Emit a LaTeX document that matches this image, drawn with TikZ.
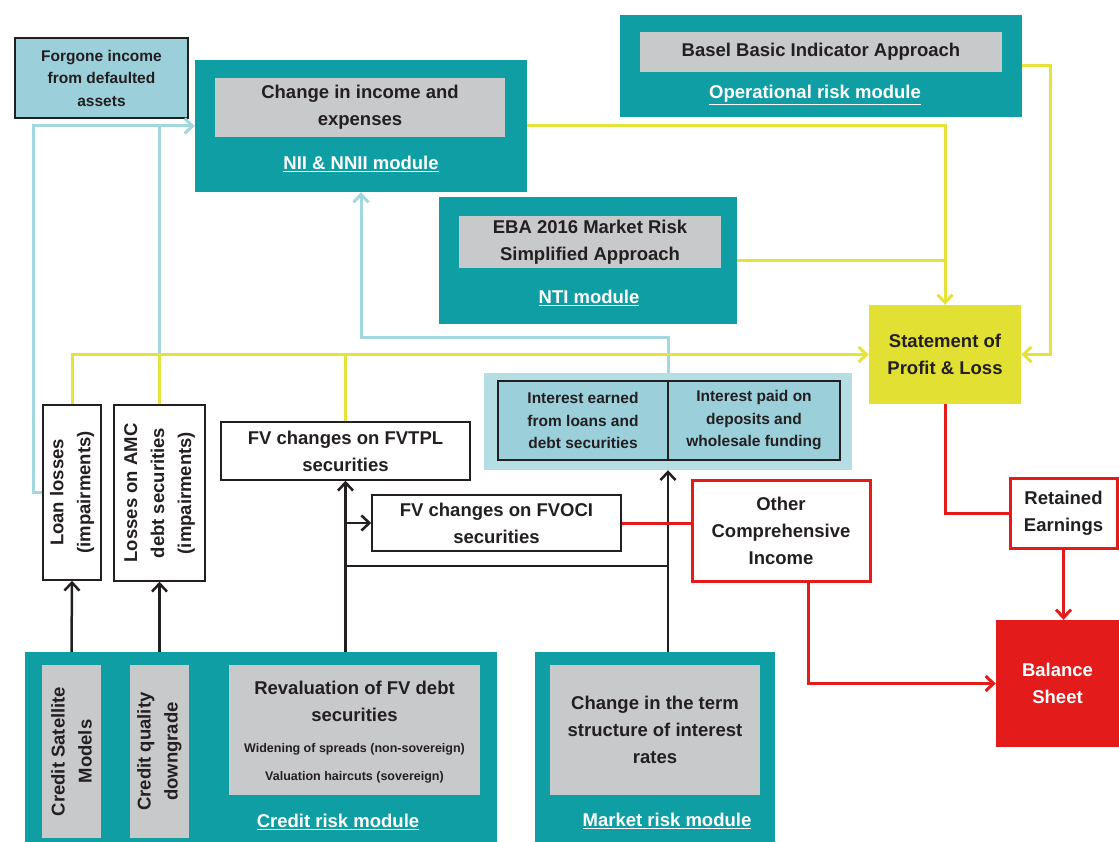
\documentclass[tikz,border=0pt]{standalone}
\usepackage{fontspec}
\setmainfont{Liberation Sans}
\usetikzlibrary{arrows.meta}
\definecolor{ink}{HTML}{231F20}
\definecolor{modteal}{HTML}{109EA5}
\definecolor{boxgrey}{HTML}{C8C9CB}
\definecolor{cellblue}{HTML}{9BCFDA}
\definecolor{paleblue}{HTML}{B4DDE4}
\definecolor{plyellow}{HTML}{E2E032}
\definecolor{lineyellow}{HTML}{E5E33A}
\definecolor{lineblue}{HTML}{A3D7E0}
\definecolor{lossred}{HTML}{E31B1B}
\newcommand\labfont{\fontsize{18.5}{27}\selectfont\bfseries}
\newcommand\midfont{\fontsize{15.5}{22.5}\selectfont\bfseries}
\newcommand\notefont{\fontsize{12.5}{16}\selectfont\bfseries}

\begin{document}
\begin{tikzpicture}[x=1pt,y=-1pt,>={Straight Barb[length=8pt,width=15pt]},
  every node/.style={inner sep=0pt,align=center,text=ink,font=\labfont},
  sz/.style 2 args={minimum width=#1pt,minimum height=#2pt},
  modbox/.style={rectangle,fill=modteal},
  greybox/.style={rectangle,fill=boxgrey},
  modlab/.style={text=white},
  plainbox/.style={rectangle,fill=white,draw=ink,line width=1.5pt},
  cellbox/.style={rectangle,fill=cellblue,draw=ink,line width=1.5pt,font=\midfont},
  redbox/.style={rectangle,fill=white,draw=lossred,line width=3pt},
  yelline/.style={draw=lineyellow,line width=3pt},
  blueline/.style={draw=lineblue,line width=3pt},
  blkline/.style={draw=ink,line width=2.5pt},
  redline/.style={draw=lossred,line width=3pt}]
\useasboundingbox (0,0) rectangle (1119,842);
% modules
\node[modbox,sz={332}{132}] (nii) at (361,126) {};
\node[greybox,sz={290}{59}] (niitxt) at (360,107.5) {Change in income and\\expenses};
\node[modlab] (niilab) at (361,164) {\underline{NII \& NNII module}};
\node[modbox,sz={402}{102}] (opr) at (821,66) {};
\node[greybox,sz={362}{40}] (oprtxt) at (821,52) {Basel Basic Indicator Approach};
\node[modlab] (oprlab) at (815,95) {\underline{Operational risk module}};
\node[modbox,sz={298}{127}] (nti) at (588,260.5) {};
\node[greybox,sz={262}{52}] (ntitxt) at (590,242) {EBA 2016 Market Risk\\Simplified Approach};
\node[modlab] (ntilab) at (589,298) {\underline{NTI module}};
\node[modbox,sz={472}{190}] (crm) at (261,747) {};
\node[greybox,sz={59}{173}] (sat) at (71.5,751.5) {};
\node[rotate=90] at (sat) {Credit Satellite\\Models};
\node[greybox,sz={59}{173}] (qual) at (159.5,751.5) {};
\node[rotate=90] at (qual) {Credit quality\\downgrade};
\node[greybox,sz={251}{130}] (reval) at (354.5,730) {};
\node (revaltxt) at (354.5,701.5) {Revaluation of FV debt\\securities};
\node[font=\notefont] (revalnote1) at (354.5,749) {Widening of spreads (non-sovereign)};
\node[font=\notefont] (revalnote2) at (354.5,777) {Valuation haircuts (sovereign)};
\node[modlab] (crmlab) at (338,822) {\underline{Credit risk module}};
\node[modbox,sz={240}{190}] (mrm) at (655,747) {};
\node[greybox,sz={210}{130}] (term) at (655,730) {Change in the term\\structure of interest\\rates};
\node[modlab] (mrmlab) at (667,821) {\underline{Market risk module}};
% P&L items
\node[rectangle,fill=cellblue,draw=ink,line width=1.5pt,font=\midfont,sz={173}{80}] (forgone) at (101.5,78) {Forgone income\\from defaulted\\assets};
\node[rectangle,fill=plyellow,sz={152}{99}] (pl) at (945,354.5) {Statement of\\Profit \& Loss};
\node[rectangle,fill=paleblue,sz={368}{97}] (intbg) at (668,421.5) {};
\node[cellbox,sz={170}{79}] (intl) at (583,420.5) {Interest earned\\from loans and\\debt securities};
\node[cellbox,sz={172}{79}] (intr) at (754,420.5) {Interest paid on\\deposits and\\wholesale funding};
\node[plainbox,sz={58}{175}] (loan) at (72,492.5) {};
\node[rotate=90] at (loan) {Loan losses\\(impairments)};
\node[plainbox,sz={91}{176}] (amc) at (159.5,493) {};
\node[rotate=90] at (amc) {Losses on AMC\\debt securities\\(impairments)};
\node[plainbox,sz={249}{58}] (fvtpl) at (345.5,451) {FV changes on FVTPL\\securities};
\node[plainbox,sz={249}{56}] (fvoci) at (496.5,523) {FV changes on FVOCI\\securities};
\node[redbox,sz={178}{101}] (oci) at (781,530.5) {Other\\Comprehensive\\Income};
\node[redbox,sz={107}{70}] (re) at (1063.5,513) {Retained\\Earnings};
\node[rectangle,fill=lossred,text=white,sz={123}{127}] (bs) at (1057.5,683.5) {Balance\\Sheet};
% light blue links into NII
\draw[blueline,->] (loan.west) -- ++(-9,0) |- (nii.west);
\draw[blueline] (amc.north) -- (amc.north |- nii.west);
\draw[blueline,->] (intbg.north) -- ++(0,-35) -| (nii.south);
% yellow links into P&L
\draw[yelline,->] (loan.north) |- (pl.west);
\draw[yelline] (amc.north) -- (amc.north |- pl.west);
\draw[yelline] (fvtpl.north) -- (fvtpl.north |- pl.west);
\draw[yelline,->] (nii.east) -| (pl.north);
\draw[yelline] (nti.east) -- (nti.east -| pl.north);
\draw[yelline,->] (opr.east) -- ++(28,0) |- (pl.east);
% black links from risk modules
\coordinate (bus) at (345.5,566);
\draw[blkline,->] (sat.north |- crm.north) -- (loan.south);
\draw[blkline,->] (qual.north |- crm.north) -- (amc.south);
\draw[blkline,->] (fvtpl.south |- crm.north) -- (fvtpl.south);
\draw[blkline,->] (fvtpl.south |- fvoci.west) -- (fvoci.west);
\draw[blkline] (bus) -- (bus -| intbg.south);
\draw[blkline,->] (intbg.south |- mrm.north) -- (intbg.south);
% red links to balance sheet
\draw[redline] (fvoci.east) -- (fvoci.east -| oci.west);
\draw[redline] (pl.south) |- (re.west);
\draw[redline,->] (re.south) -- (re.south |- bs.north);
\draw[redline,->] ([xshift=27pt]oci.south) |- (bs.west);
\end{tikzpicture}
\end{document}
